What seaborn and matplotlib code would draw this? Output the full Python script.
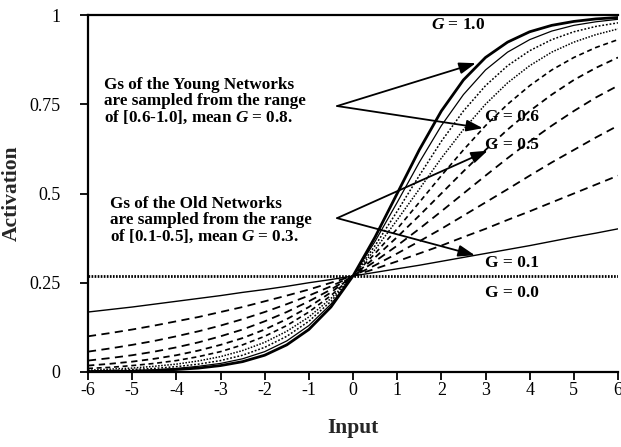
import matplotlib
matplotlib.use("Agg")
import matplotlib.pyplot as plt
import seaborn as sns
import pandas as pd

# Input grid shared by every activation curve
x_input = [-6.0, -5.5, -5.0, -4.5, -4.0, -3.5, -3.0, -2.5, -2.0, -1.5, -1.0, -0.5,
           0.0, 0.5, 1.0, 1.5, 2.0, 2.5, 3.0, 3.5, 4.0, 4.5, 5.0, 5.5, 6.0]

# Activation for each gain G
act_g10 = [0.001, 0.002, 0.002, 0.004, 0.007, 0.011, 0.018, 0.029, 0.047, 0.076, 0.119, 0.182,
           0.269, 0.378, 0.500, 0.622, 0.731, 0.818, 0.881, 0.924, 0.953, 0.971, 0.982, 0.989, 0.993]
act_g09 = [0.002, 0.003, 0.004, 0.006, 0.010, 0.016, 0.024, 0.037, 0.057, 0.087, 0.130, 0.190,
           0.269, 0.366, 0.475, 0.587, 0.690, 0.777, 0.846, 0.896, 0.931, 0.955, 0.971, 0.981, 0.988]
act_g08 = [0.003, 0.004, 0.007, 0.010, 0.015, 0.022, 0.032, 0.047, 0.069, 0.100, 0.142, 0.198,
           0.269, 0.354, 0.450, 0.550, 0.646, 0.731, 0.802, 0.858, 0.900, 0.931, 0.953, 0.968, 0.978]
act_g07 = [0.005, 0.008, 0.011, 0.016, 0.022, 0.031, 0.043, 0.060, 0.083, 0.114, 0.154, 0.206,
           0.269, 0.343, 0.426, 0.512, 0.599, 0.679, 0.750, 0.810, 0.858, 0.896, 0.924, 0.945, 0.961]
act_g06 = [0.010, 0.013, 0.018, 0.024, 0.032, 0.043, 0.057, 0.076, 0.100, 0.130, 0.168, 0.214,
           0.269, 0.332, 0.401, 0.475, 0.550, 0.622, 0.690, 0.750, 0.802, 0.846, 0.881, 0.909, 0.931]
act_g05 = [0.018, 0.023, 0.029, 0.037, 0.047, 0.060, 0.076, 0.095, 0.119, 0.148, 0.182, 0.223,
           0.269, 0.321, 0.378, 0.438, 0.500, 0.562, 0.622, 0.679, 0.731, 0.777, 0.818, 0.852, 0.881]
act_g04 = [0.032, 0.039, 0.047, 0.057, 0.069, 0.083, 0.100, 0.119, 0.142, 0.168, 0.198, 0.231,
           0.269, 0.310, 0.354, 0.401, 0.450, 0.500, 0.550, 0.599, 0.646, 0.690, 0.731, 0.769, 0.802]
act_g03 = [0.057, 0.066, 0.076, 0.087, 0.100, 0.114, 0.130, 0.148, 0.168, 0.190, 0.214, 0.240,
           0.269, 0.299, 0.332, 0.366, 0.401, 0.438, 0.475, 0.512, 0.550, 0.587, 0.622, 0.657, 0.690]
act_g02 = [0.100, 0.109, 0.119, 0.130, 0.142, 0.154, 0.168, 0.182, 0.198, 0.214, 0.231, 0.250,
           0.269, 0.289, 0.310, 0.332, 0.354, 0.378, 0.401, 0.426, 0.450, 0.475, 0.500, 0.525, 0.550]
act_g01 = [0.168, 0.175, 0.182, 0.190, 0.198, 0.206, 0.214, 0.223, 0.231, 0.240, 0.250, 0.259,
           0.269, 0.279, 0.289, 0.299, 0.310, 0.321, 0.332, 0.343, 0.354, 0.366, 0.378, 0.389, 0.401]
act_g00 = [0.269, 0.269, 0.269, 0.269, 0.269, 0.269, 0.269, 0.269, 0.269, 0.269, 0.269, 0.269,
           0.269, 0.269, 0.269, 0.269, 0.269, 0.269, 0.269, 0.269, 0.269, 0.269, 0.269, 0.269, 0.269]

y_ticks = [0, 0.25, 0.5, 0.75, 1]
y_tick_labels = ["0", "0.25", "0.5", "0.75", "1"]
x_ticks = [-6, -5, -4, -3, -2, -1, 0, 1, 2, 3, 4, 5, 6]

sns.set_style("ticks")
plt.rcParams["font.family"] = ["Liberation Serif", "DejaVu Serif"]
plt.rcParams["mathtext.fontset"] = "custom"
plt.rcParams["mathtext.it"] = "Liberation Serif:italic:bold"
plt.rcParams["mathtext.rm"] = "Liberation Serif:bold"

curves = [
    ("1.0", act_g10, 2.0, "-"),
    ("0.9", act_g09, 0.9, "-"),
    ("0.8", act_g08, 1.1, (0, (1.2, 1.2))),
    ("0.7", act_g07, 1.1, (0, (1.0, 1.0))),
    ("0.6", act_g06, 1.2, (0, (3.0, 2.2))),
    ("0.5", act_g05, 1.3, (0, (3.5, 2.5))),
    ("0.4", act_g04, 1.3, (0, (4.5, 3.0))),
    ("0.3", act_g03, 1.3, (0, (4.5, 3.0))),
    ("0.2", act_g02, 1.3, (0, (4.5, 3.0))),
    ("0.1", act_g01, 1.0, "-"),
    ("0.0", act_g00, 2.0, (0, (0.6, 0.5))),
]

fig = plt.figure(figsize=(6.21, 4.47), dpi=100)
ax = fig.add_axes([88 / 621, 75 / 447, 530 / 621, 357 / 447])

for gain, values, lw, ls in curves:
    df = pd.DataFrame({"Input": x_input, "Activation": values})
    sns.lineplot(data=df, x="Input", y="Activation", ax=ax, color="black",
                 linewidth=lw, linestyle=ls, sort=False)

ax.set_xlim(-6, 6)
ax.set_ylim(0, 1)
ax.set_xticks(x_ticks)
ax.set_xticklabels([str(t) for t in x_ticks])
ax.set_yticks(y_ticks)
ax.set_yticklabels(y_tick_labels)
ax.tick_params(axis="both", direction="out", length=6, width=1.3, colors="black",
               labelsize=13)
ax.tick_params(axis="y", pad=14)
ax.tick_params(axis="x", pad=1.5)

for side in ["left", "bottom", "top"]:
    ax.spines[side].set_visible(True)
    ax.spines[side].set_linewidth(1.6)
    ax.spines[side].set_color("black")
ax.spines["right"].set_visible(False)

ax.set_xlabel("Input", fontsize=15.5, fontweight="bold")
ax.set_ylabel("Activation", fontsize=15.5, fontweight="bold")
ax.xaxis.set_label_coords(0.5, -0.128)
ax.yaxis.set_label_coords(-0.125, 0.5)

txt_kw = dict(fontsize=12.3, fontweight="bold", color="black", ha="left", va="center",
              linespacing=1.0)
ax.text(-5.64, 0.758, "Gs of the Young Networks\nare sampled from the range\n"
        "of [0.6-1.0], mean $G$ = 0.8.", **txt_kw)
ax.text(-5.50, 0.425, "Gs of the Old Networks\nare sampled from the range\n"
        "of [0.1-0.5], mean $G$ = 0.3.", **txt_kw)

arrow_kw = dict(arrowstyle="-|>,head_length=1.0,head_width=0.35", color="black",
                lw=1.3, shrinkA=0, shrinkB=0)
young_apex = (-0.36, 0.745)
old_apex = (-0.36, 0.431)
for target in [(2.78, 0.865), (2.94, 0.683)]:
    ax.annotate("", xy=target, xytext=young_apex, arrowprops=arrow_kw)
for target in [(3.05, 0.62), (2.76, 0.327)]:
    ax.annotate("", xy=target, xytext=old_apex, arrowprops=arrow_kw)

lab_kw = dict(fontsize=12.5, fontweight="bold", color="black", ha="center", va="center")
ax.text(2.38, 0.972, "$G$ = 1.0", **lab_kw)
ax.text(3.6, 0.714, "G = 0.6", **lab_kw)
ax.text(3.6, 0.636, "G = 0.5", **lab_kw)
ax.text(3.6, 0.305, "G = 0.1", **lab_kw)
ax.text(3.6, 0.221, "G = 0.0", **lab_kw)

fig.savefig("out.png", dpi=100)
